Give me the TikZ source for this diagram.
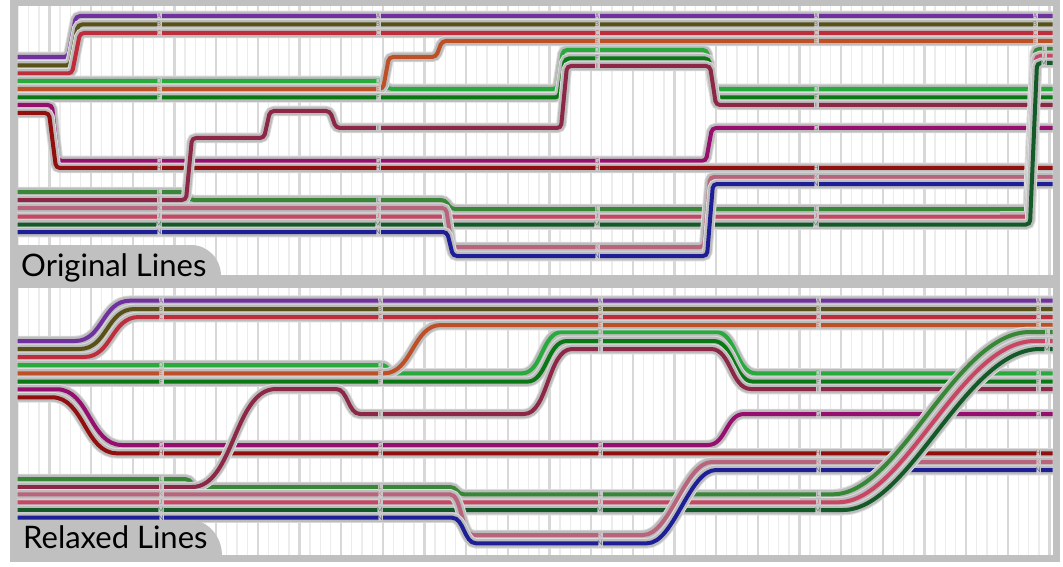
\documentclass[tikz,border=0pt]{standalone}
\usepackage{fontspec}
\setmainfont{Lato}
\definecolor{colA}{RGB}{112,48,160}
\definecolor{colB}{RGB}{88,82,24}
\definecolor{colC}{RGB}{190,45,60}
\definecolor{colD}{RGB}{40,170,60}
\definecolor{colE}{RGB}{190,80,40}
\definecolor{colF}{RGB}{10,120,20}
\definecolor{colG}{RGB}{150,15,110}
\definecolor{colH}{RGB}{145,15,15}
\definecolor{colI}{RGB}{140,40,70}
\definecolor{colJ}{RGB}{200,70,100}
\definecolor{colK}{RGB}{185,100,125}
\definecolor{colL}{RGB}{55,135,55}
\definecolor{colM}{RGB}{20,90,40}
\definecolor{colN}{RGB}{30,30,150}
\definecolor{framecol}{RGB}{192,192,192}
\definecolor{haloc}{RGB}{188,188,188}
\definecolor{haloo}{RGB}{220,220,220}
\definecolor{gridl}{RGB}{236,236,236}
\definecolor{gridd}{RGB}{216,216,216}
\definecolor{labfill}{RGB}{200,200,200}
\tikzset{
  haloout/.style={line width=10.5pt, draw=haloo},
  halo/.style={line width=8.6pt, draw=haloc},
  core/.style={line width=4pt},
  lab/.style={fill=labfill, inner sep=0pt, minimum width=5pt, minimum height=7pt,
    text=#1!80!white, font=\fontsize{6.5}{6.5}\selectfont},
  gridlight/.style={draw=gridl, line width=1.4pt},
  griddark/.style={draw=gridd, line width=2.2pt},
  tabtext/.style={anchor=base west, inner sep=0pt, font=\fontsize{31}{31}\selectfont}
}
\newcommand\sline[2]{\draw[haloout] #2; \draw[halo] #2; \draw[core,draw=#1] #2;}
\begin{document}
\begin{tikzpicture}[x=1pt,y=-1pt]
\useasboundingbox (0,0) rectangle (1063,567);
% frame and panels
\fill[framecol] (10,0) rectangle (1060,562);
\fill[white] (17.5,6) rectangle (1052.5,275);
\fill[white] (17.5,288) rectangle (1052.5,555);
% grid
\foreach \i in {0,...,99}{
  \pgfmathsetmacro\gx{18.25+10.4167*\i}
  \pgfmathtruncatemacro\dk{mod(\i,4)}
  \ifnum\dk=3
    \draw[griddark] (\gx,6) -- (\gx,275) (\gx,288) -- (\gx,555);
  \else
    \draw[gridlight] (\gx,6) -- (\gx,275) (\gx,288) -- (\gx,555);
  \fi
}
% ---------------- top panel: original lines
\begin{scope}[rounded corners=4pt]
\clip (17.5,6) rectangle (1052.5,275);
\sline{colA}{(10,57) -- (68,57) -- (76,16) -- (1060,16)}
\sline{colB}{(10,65.5) -- (70,65.5) -- (78,24.5) -- (1060,24.5)}
\sline{colC}{(10,73.5) -- (72,73.5) -- (80,33) -- (1060,33)}
\sline{colD}{(10,81) -- (382,81) -- (388,89) -- (557,89) -- (563,50) -- (707,50) -- (713,89) -- (1060,89)}
\sline{colE}{(10,89) -- (383,89) -- (389,57) -- (436,57) -- (442,41) -- (1060,41)}
\sline{colF}{(10,97.5) -- (559,97.5) -- (565,58.5) -- (709,58.5) -- (715,97.5) -- (1060,97.5)}
\sline{colG}{(10,105) -- (52,105) -- (58,161) -- (706,161) -- (712,128) -- (1060,128)}
\sline{colH}{(10,113) -- (49,113) -- (56,168) -- (1060,168)}
\sline{colJ}{(10,216.5) -- (1029,216.5) -- (1036,56) -- (1060,56)}
\sline{colL}{(10,192) -- (184,192) -- (190,200) -- (445,200) -- (451,209) -- (1028,209) -- (1035,49) -- (1060,49)}
\sline{colM}{(10,224.5) -- (1030,224.5) -- (1037,63) -- (1060,63)}
\sline{colI}{(10,200) -- (186,200) -- (192,138) -- (264,138) -- (270,111) -- (330,111) -- (336,128) -- (561,128) -- (567,66) -- (710,66) -- (716,105) -- (1060,105)}
\sline{colK}{(10,208) -- (446,208) -- (452,247) -- (704,247) -- (710,177) -- (1060,177)}
\sline{colN}{(10,232) -- (447,232) -- (453,256) -- (707,256) -- (713,184) -- (1060,184)}
\sline{colL}{(1000,209) -- (1028,209) -- (1035,49) -- (1060,49)}
\sline{colJ}{(1000,216.5) -- (1029,216.5) -- (1036,56) -- (1060,56)}
\sline{colM}{(1000,224.5) -- (1030,224.5) -- (1037,63) -- (1060,63)}
\end{scope}
% ---------------- bottom panel: relaxed lines
\begin{scope}
\clip (17.5,288) rectangle (1052.5,555);
\sline{colA}{(10,341) -- (75,341) .. controls (103,341) and (102,300.7) .. (130,300.7) -- (1060,300.7)}
\sline{colB}{(10,349) -- (79.5,349) .. controls (107.5,349) and (106.5,309) .. (134.5,309) -- (1060,309)}
\sline{colC}{(10,357) -- (84,357) .. controls (112,357) and (111,317) .. (139,317) -- (1060,317)}
\sline{colD}{(10,365) -- (381,365) .. controls (389,365) and (388,373.3) .. (396,373.3) -- (522,373.3) .. controls (542,373.3) and (542,332) .. (562,332) -- (716,332) .. controls (736,332) and (736,373.3) .. (756,373.3) -- (1060,373.3)}
\sline{colE}{(10,373.3) -- (384,373.3) .. controls (412,373.3) and (413,325) .. (441,325) -- (1060,325)}
\sline{colF}{(10,381.7) -- (527,381.7) .. controls (547,381.7) and (547,341) .. (567,341) -- (713.5,341) .. controls (733.5,341) and (733.5,381.7) .. (753.5,381.7) -- (1060,381.7)}
\sline{colG}{(10,389.3) -- (57,389.3) .. controls (89,389.3) and (90,445) .. (122,445) -- (708,445) .. controls (726,445) and (726,414) .. (744,414) -- (1060,414)}
\sline{colH}{(10,397.3) -- (52,397.3) .. controls (84,397.3) and (85,453.3) .. (117,453.3) -- (1060,453.3)}
\sline{colJ}{(10,502.3) -- (838,502.3) .. controls (905,502.3) and (960,341) .. (1035,341) -- (1060,341)}
\sline{colL}{(10,479) -- (185,479) .. controls (192,479) and (192,487) .. (199,487) -- (450,487) .. controls (457,487) and (457,494.3) .. (464,494.3) -- (833,494.3) .. controls (900,494.3) and (955,332) .. (1030,332) -- (1060,332)}
\sline{colM}{(10,510) -- (843,510) .. controls (910,510) and (965,349) .. (1040,349) -- (1060,349)}
\sline{colI}{(10,487) -- (192,487) .. controls (234,487) and (234,389) .. (276,389) -- (336,389) .. controls (348,389) and (348,414) .. (360,414) -- (524,414) .. controls (548,414) and (548,349) .. (572,349) -- (711,349) .. controls (731,349) and (731,389) .. (751,389) -- (1060,389)}
\sline{colK}{(10,494.3) -- (450,494.3) .. controls (462,494.3) and (461,535) .. (473,535) -- (643,535) .. controls (670,535) and (685,462) .. (712,462) -- (1060,462)}
\sline{colN}{(10,517.7) -- (452,517.7) .. controls (464,517.7) and (464,543.3) .. (476,543.3) -- (647,543.3) .. controls (674,543.3) and (689,470) .. (716,470) -- (1060,470)}
\sline{colL}{(800,494.3) -- (833,494.3) .. controls (900,494.3) and (955,332) .. (1030,332) -- (1060,332)}
\sline{colJ}{(800,502.3) -- (838,502.3) .. controls (905,502.3) and (960,341) .. (1035,341) -- (1060,341)}
\sline{colM}{(800,510) -- (843,510) .. controls (910,510) and (965,349) .. (1040,349) -- (1060,349)}
\end{scope}
% ---------------- labels, top panel
\foreach \x/\y/\c [count=\k] in {
 159/16/A,159/24.5/B,159/33/C,159/81/D,159/89/E,159/97.5/F,159/161/G,159/168/H,159/192/L,159/200/I,159/208/K,159/216.5/J,159/224.5/M,159/232/N,
 378/16/A,378/24.5/B,378/33/C,378/81/D,378/89/E,378/97.5/F,378/128/I,378/161/G,378/168/H,378/200/L,378/208/K,378/216.5/J,378/224.5/M,378/232/N,
 597/16/A,597/24.5/B,597/33/C,597/41/E,597/50/D,597/58.5/F,597/66/I,597/161/G,597/168/H,597/209/L,597/216.5/J,597/224.5/M,597/247/K,597/256/N,
 816/16/A,816/24.5/B,816/33/C,816/41/E,816/89/D,816/97.5/F,816/105/I,816/128/G,816/168/H,816/177/K,816/184/N,816/209/L,816/216.5/J,816/224.5/M,
 1035/16/A,1035/24.5/B,1035/33/C,1035/41/E,1044/49/L,1044/56/J,1044/63/M}
 \node[lab=col\c] (t\k) at (\x,\y) {\c};
% ---------------- labels, bottom panel
\foreach \x/\y/\c [count=\k] in {
 161/300.7/A,161/309/B,161/317/C,161/365/D,161/373.3/E,161/381.7/F,161/445/G,161/453.3/H,161/479/L,161/487/I,161/494.3/K,161/502.3/J,161/510/M,161/517.7/N,
 380/300.7/A,380/309/B,380/317/C,380/365/D,380/373.3/E,380/381.7/F,380/414/I,380/445/G,380/453.3/H,380/487/L,380/494.3/K,380/502.3/J,380/510/M,380/517.7/N,
 600/300.7/A,600/309/B,600/317/C,600/325/E,600/332/D,600/341/F,600/349/I,600/445/G,600/453.3/H,600/494.3/L,600/502.3/J,600/510/M,600/535/K,600/543.3/N,
 818/300.7/A,818/309/B,818/317/C,818/325/E,818/373.3/D,818/381.7/F,818/389/I,818/414/G,818/453.3/H,818/462/K,818/470/N,818/494.3/L,818/502.3/J,818/510/M,
 1038/300.7/A,1038/309/B,1038/317/C,1038/325/E,1038/373.3/D,1038/381.7/F,1038/389/I,1038/414/G,1038/453.3/H,1038/462/K,1038/470/N,1047/332/L,1047/341/J,1047/349/M}
 \node[lab=col\c] (b\k) at (\x,\y) {\c};
% ---------------- tabs
\fill[framecol] (17.5,276) -- (17.5,245) -- (191,245) .. controls (207.5,245) and (221,258.5) .. (221,276) -- cycle;
\fill[framecol] (17.5,556) -- (17.5,520) -- (190,520) .. controls (207,520) and (222,535) .. (222,556) -- cycle;
\node[tabtext] (orig) at (21,276.5) {Original Lines};
\node[tabtext] (relax) at (23,548.5) {Relaxed Lines};
\end{tikzpicture}
\end{document}
